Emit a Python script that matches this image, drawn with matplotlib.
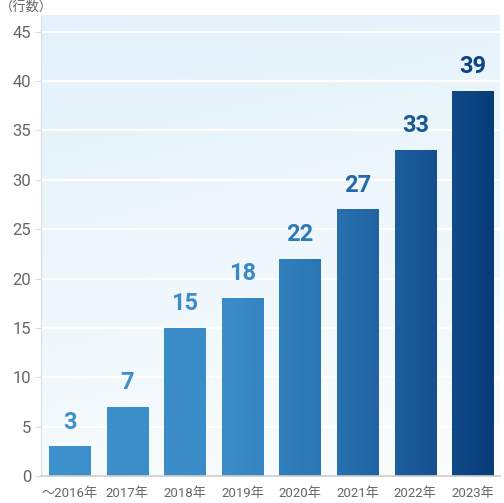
import matplotlib.pyplot as plt
import numpy as np
from matplotlib.colors import LinearSegmentedColormap

plt.rcParams['font.family'] = ['Roboto', 'Noto Sans CJK JP', 'DejaVu Sans']

# data
years = ['～2016年', '2017年', '2018年', '2019年', '2020年', '2021年', '2022年', '2023年']
counts = [3, 7, 15, 18, 22, 27, 33, 39]
yticks = [0, 5, 10, 15, 20, 25, 30, 35, 40, 45]

fig = plt.figure(figsize=(5.04, 5.03), dpi=100)
ax = fig.add_axes([41 / 504, 1 - 476 / 503, 459 / 504, 461 / 503])

x = np.arange(len(years))
xlim = (-0.5, 7.47)
ylim = (0, 46.7)
ax.set_xlim(*xlim)
ax.set_ylim(*ylim)

# background gradient (light blue top-left -> near white bottom)
bg_cmap = LinearSegmentedColormap.from_list('bg', ['#fbfdfe', '#eef7fc', '#e2f1fb'])
gy, gx = np.mgrid[0:1:200j, 0:1:200j]
bg = 0.8 * gy + 0.2 * (1 - gx)
ax.imshow(bg, cmap=bg_cmap, extent=(*xlim, *ylim), origin='lower',
          aspect='auto', zorder=0, vmin=0, vmax=1)

ax.set_yticks(yticks)
ax.grid(axis='y', color='white', linewidth=1.6, zorder=1)
ax.set_axisbelow(True)

# bars with horizontal gradient
bar_cmap = LinearSegmentedColormap.from_list(
    'bars', [(0.0, '#3e92cd'), (0.42, '#3a8bc8'), (0.62, '#2a74b3'),
             (0.82, '#195796'), (1.0, '#073a77')])
bars = ax.bar(x, counts, width=0.72, color='none', zorder=2)
grad = np.linspace(0, 1, 400).reshape(1, -1)
for b in bars:
    im = ax.imshow(grad, cmap=bar_cmap, extent=(*xlim, *ylim), aspect='auto',
                   zorder=2, vmin=0, vmax=1)
    im.set_clip_path(b)

for xi, v in zip(x, counts):
    t = (xi + 0.5) / (xlim[1] - xlim[0])
    ax.text(xi, v + 1.3, str(v), ha='center', va='bottom', fontsize=17,
            fontweight='bold', color=bar_cmap(t), zorder=3)

ax.set_xticks(x)
ax.set_xticklabels(years, fontsize=9.5, color='#666666')
ax.tick_params(axis='x', length=0, pad=8)
ax.tick_params(axis='y', length=4, color='#dddddd', labelsize=12,
               labelcolor='#666666', pad=3)

for s in ['top', 'right']:
    ax.spines[s].set_visible(False)
ax.spines['left'].set_color('#dddddd')
ax.spines['bottom'].set_color('#cccccc')
ax.spines['bottom'].set_linewidth(1.2)

fig.text(0 / 504, 1 - 8 / 503, '（行数）', fontsize=9.5, color='#666666',
         ha='left', va='center')

fig.savefig('out.png', dpi=100)
